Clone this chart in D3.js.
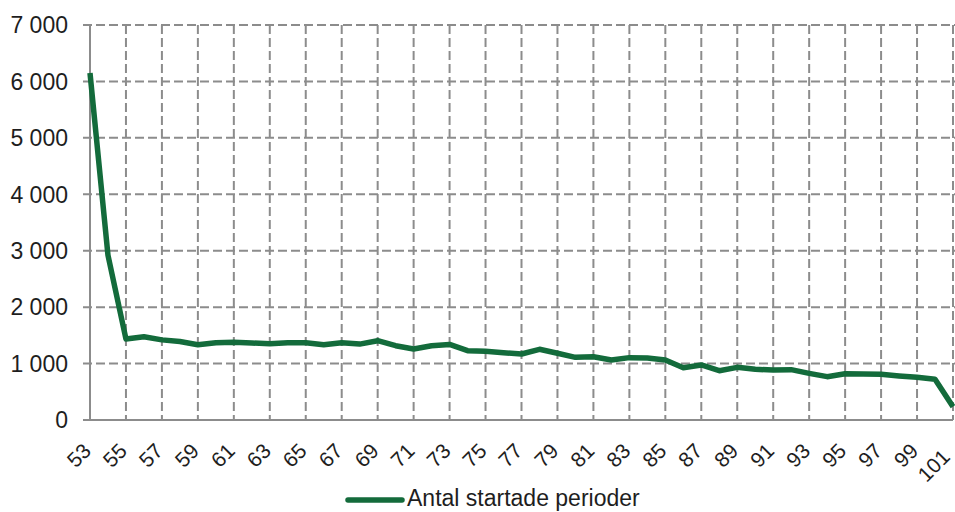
<!DOCTYPE html>
<html><head><meta charset="utf-8">
<script src="https://cdn.jsdelivr.net/npm/d3@7"></script>
<style>body{margin:0;background:#fff}svg{display:block}</style>
</head><body>
<svg id="c" width="955" height="512"></svg>
<script>
const ages = [53,54,55,56,57,58,59,60,61,62,63,64,65,66,67,68,69,70,71,72,73,74,75,76,77,78,79,80,81,82,83,84,85,86,87,88,89,90,91,92,93,94,95,96,97,98,99,100,101];
const values = [6150,2920,1435,1475,1420,1390,1335,1370,1380,1365,1350,1370,1370,1335,1370,1345,1405,1317,1258,1317,1340,1228,1217,1193,1170,1253,1182,1110,1122,1063,1105,1100,1063,927,975,874,933,898,886,892,827,768,821,815,810,780,756,721,236];
const yTicks = [0,1000,2000,3000,4000,5000,6000,7000];
const seriesName = "Antal startade perioder";

const svg = d3.select("#c");
const m = {l:90, r:953, t:25, b:420};
const x = d3.scaleLinear().domain([53,101]).range([m.l, m.r]);
const y = d3.scaleLinear().domain([0,7000]).range([m.b, m.t]);
const fmt = v => d3.format(",")(v).replace(/,/g, " ");
const font = "Liberation Sans, Arial, sans-serif";
const gridCol = "#8c8c8c";
const textCol = "#1e1e1e";

// horizontal gridlines
svg.append("g").selectAll("line").data(yTicks.filter(d=>d>0)).join("line")
  .attr("x1", m.l-7).attr("x2", 955).attr("y1", d=>y(d)).attr("y2", d=>y(d))
  .attr("stroke", gridCol).attr("stroke-width", 2).attr("stroke-dasharray", "9,4");
// vertical gridlines
const xTicks = ages.filter(a => (a-53)%2===0);
svg.append("g").selectAll("line").data(xTicks.filter(d=>d>53)).join("line")
  .attr("x1", d=>x(d)).attr("x2", d=>x(d)).attr("y1", m.t).attr("y2", m.b)
  .attr("stroke", gridCol).attr("stroke-width", 2).attr("stroke-dasharray", "9,4");

// axes lines
svg.append("line").attr("x1", m.l).attr("x2", m.l).attr("y1", m.t).attr("y2", m.b)
  .attr("stroke", gridCol).attr("stroke-width", 2);
svg.append("line").attr("x1", m.l-7).attr("x2", m.r).attr("y1", m.b).attr("y2", m.b)
  .attr("stroke", gridCol).attr("stroke-width", 2);

// y labels
svg.append("g").selectAll("text").data(yTicks).join("text")
  .attr("x", 68).attr("y", d=>y(d)).attr("dy", "0.36em")
  .attr("text-anchor", "end").attr("font-family", font).attr("font-size", 23)
  .attr("fill", textCol).text(fmt);

// x labels
const last = xTicks[xTicks.length-1];
svg.append("g").selectAll("text").data(xTicks).join("text")
  .attr("transform", d=> d===last
      ? `translate(${x(d)-7},${m.b+33}) rotate(-45)`
      : `translate(${x(d)-3},${m.b+27}) rotate(-45)`)
  .attr("text-anchor", "end").attr("font-family", font).attr("font-size", 21)
  .attr("fill", textCol).attr("dy", "0.36em").text(d=>d);

// line
const line = d3.line().x((d,i)=>x(ages[i])).y(d=>y(d));
svg.append("path").datum(values).attr("d", line).attr("fill", "none")
  .attr("stroke", "#136b3b").attr("stroke-width", 5.5).attr("stroke-linejoin", "round");

// legend
svg.append("line").attr("x1", 348).attr("x2", 402).attr("y1", 500).attr("y2", 500)
  .attr("stroke", "#136b3b").attr("stroke-width", 5.5).attr("stroke-linecap", "round");
svg.append("text").attr("x", 407).attr("y", 506).attr("font-family", font).attr("font-size", 23)
  .attr("fill", textCol).text(seriesName);
</script>
</body></html>
